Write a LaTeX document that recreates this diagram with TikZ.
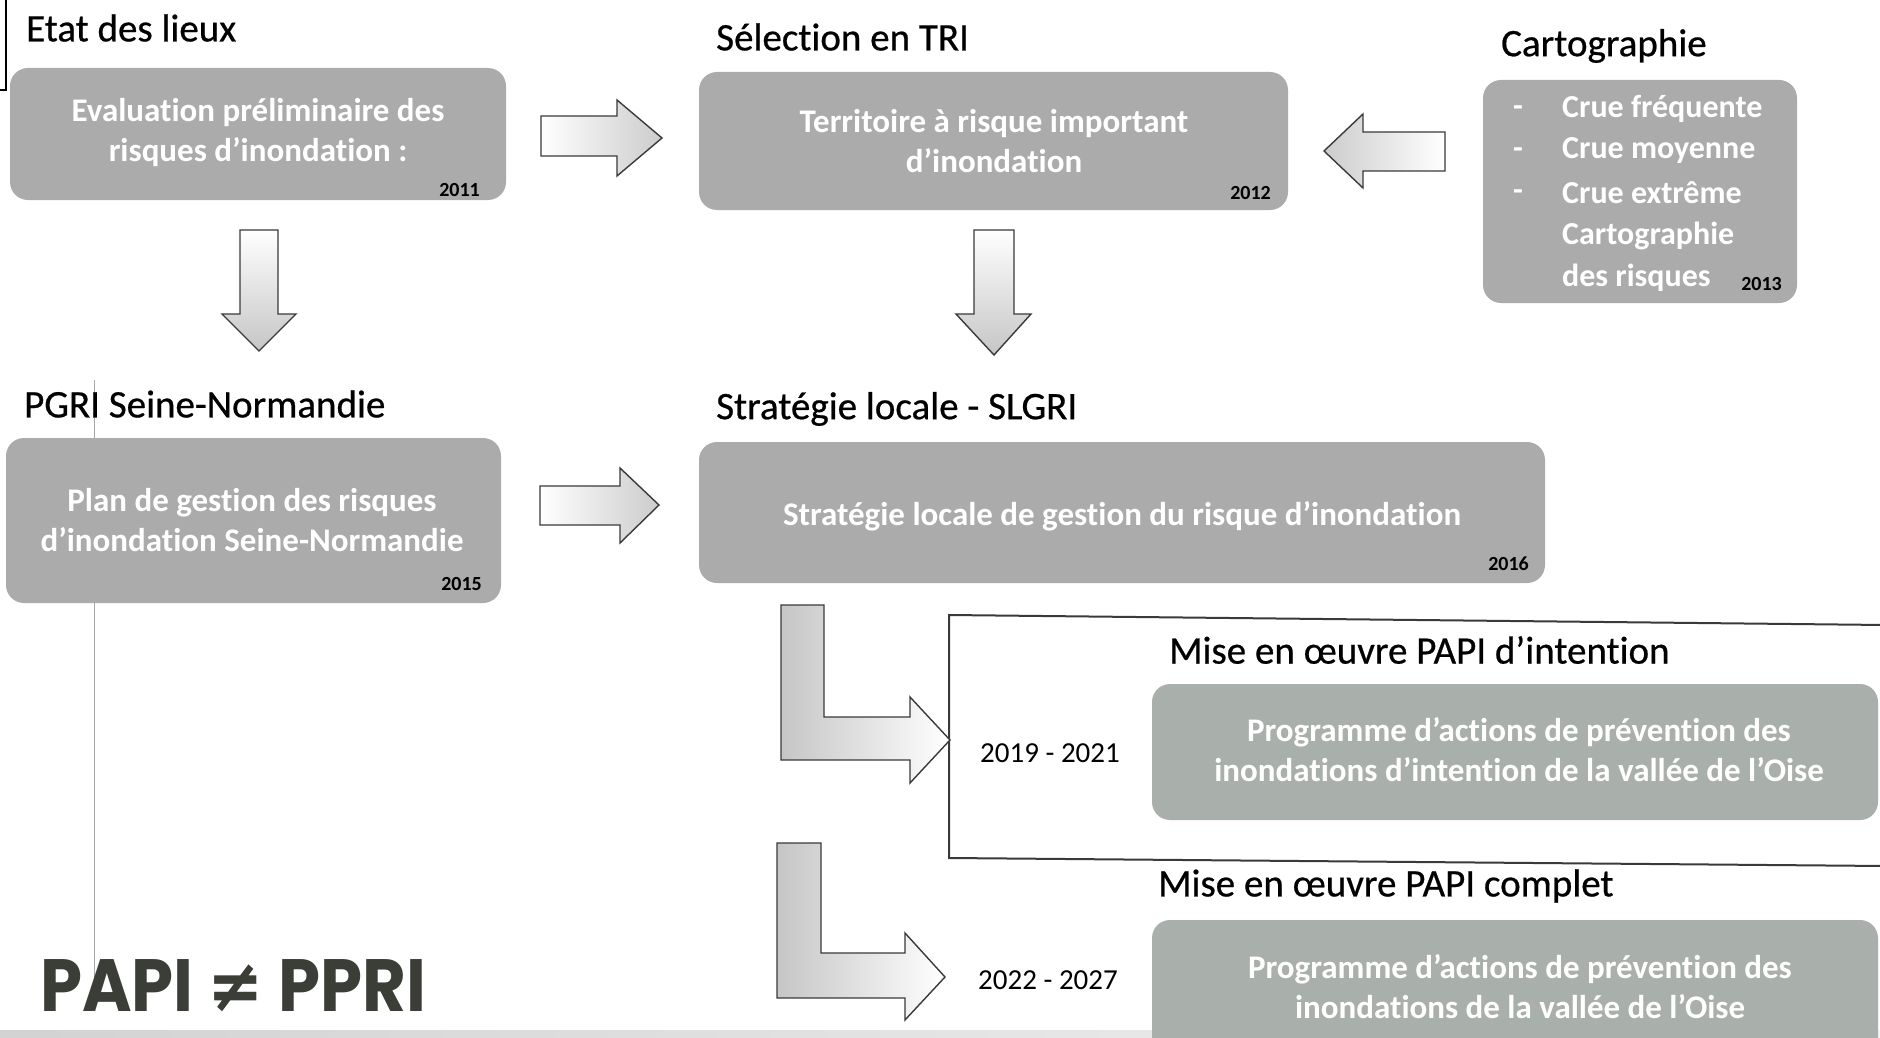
\documentclass[tikz,border=0pt]{standalone}
\usepackage{fontspec}
\setmainfont{Carlito}[Ligatures=NoCommon]
\newfontfamily\titlefont{Carlito}[Ligatures=NoCommon,FakeBold=0.6]
\newfontfamily\papifont{Poppins}
\newfontfamily\symfont{DejaVu Sans}
\definecolor{boxgray}{HTML}{ABABAB}
\definecolor{boxgreen}{HTML}{A9B0AB}
\definecolor{papicol}{HTML}{3B3E36}
\definecolor{arrline}{HTML}{3A3A3A}
\begin{document}
\begin{tikzpicture}[x=1pt,y=-1pt,
  graybox/.style={fill=boxgray, rounded corners=18pt},
  greenbox/.style={fill=boxgreen, rounded corners=18pt},
  boxtxt/.style={inner sep=0pt, text=white, align=center, font=\fontsize{33}{40}\selectfont\bfseries},
  listtxt/.style={inner sep=0pt, text=white, anchor=west, font=\fontsize{32}{40}\selectfont\bfseries},
  yeartxt/.style={inner sep=0pt, anchor=east, font=\fontsize{20}{24}\selectfont\bfseries},
  titletxt/.style={inner sep=0pt, anchor=west, font=\fontsize{39}{46}\selectfont\titlefont},
  datetxt/.style={inner sep=0pt, font=\fontsize{29}{34}\selectfont},
  blockarrow/.style={draw=arrline, line width=1.4pt, line join=miter},
]
\useasboundingbox (0,0) rectangle (1880,1038);
\clip (0,0) rectangle (1880,1038);
\fill[white] (0,0) rectangle (1880,1038);

% artefacts
\draw[line width=1.2pt] (6,0) -- (6,90) -- (0,90);
\draw[gray!70, line width=0.8pt] (94,380) -- (94,990);
\shade[left color=gray!35, right color=gray!8] (0,1030) rectangle (1880,1038);

% titles
\node[titletxt] (tEtat) at (26,28) {Etat des lieux};
\node[titletxt] (tSel) at (716,37) {Sélection en TRI};
\node[titletxt] (tCarto) at (1501,46) {Cartographie};
\node[titletxt] (tPGRI) at (24,404) {PGRI Seine-Normandie};
\node[titletxt] (tSLGRI) at (716,409) {Stratégie locale - SLGRI};
\node[titletxt] (tInt) at (1169,650) {Mise en œuvre PAPI d’intention};
\node[titletxt] (tComp) at (1158,886) {Mise en œuvre PAPI complet};

% boxes
\path[graybox] (10,68) rectangle (506,200);
\node[boxtxt] (b1) at (258,133) {Evaluation préliminaire des\\risques d’inondation :};
\node[yeartxt] (y1) at (480,190) {2011};

\path[graybox] (699,72) rectangle (1288,210);
\node[boxtxt] (b2) at (994,141.5) {Territoire à risque important\\d’inondation};
\node[yeartxt] (y2) at (1271,193) {2012};

\path[graybox] (1483,80) rectangle (1797,303);
\node[listtxt] (d1) at (1513,111) {-};
\node[listtxt] (d2) at (1513,153) {-};
\node[listtxt] (d3) at (1513,195) {-};
\node[listtxt] (c1) at (1562,109) {Crue fréquente};
\node[listtxt] (c2) at (1562,151) {Crue moyenne};
\node[listtxt] (c3) at (1562,193) {Crue extrême};
\node[listtxt] (c4) at (1562,236) {Cartographie};
\node[listtxt] (c5) at (1562,278) {des risques};
\node[yeartxt] (y3) at (1782,284) {2013};

\path[graybox] (6,438) rectangle (501,603);
\node[boxtxt] (b4) at (252,520) {Plan de gestion des risques\\d’inondation Seine-Normandie};
\node[yeartxt] (y4) at (482,584) {2015};

\path[graybox] (699,442) rectangle (1545,583);
\node[boxtxt] (b5) at (1122,516) {Stratégie locale de gestion du risque d’inondation};
\node[yeartxt] (y5) at (1529,564) {2016};

% frame
\draw[arrline, line width=2pt] (1885,625) -- (949,615) -- (949,858) -- (1885,866);

\path[greenbox] (1152,684) rectangle (1878,820);
\node[boxtxt] (b6) at (1519,749.5) {Programme d’actions de prévention des\\inondations d’intention de la vallée de l’Oise};

\path[greenbox] (1152,920) rectangle (1878,1080);
\node[boxtxt] (b7) at (1520,986.5) {Programme d’actions de prévention des\\inondations de la vallée de l’Oise};

\node[datetxt] (dt1) at (1050,753) {2019 - 2021};
\node[datetxt] (dt2) at (1048,980) {2022 - 2027};

% block arrows
\shade[blockarrow, left color=white, right color=gray!40]
  (541,116) -- (617,116) -- (617,100) -- (662,138) -- (617,176) -- (617,156) -- (541,156) -- cycle;
\shade[blockarrow, left color=gray!40, right color=white]
  (1445,132) -- (1363,132) -- (1363,114) -- (1324,151) -- (1363,188) -- (1363,171) -- (1445,171) -- cycle;
\shade[blockarrow, top color=white, bottom color=gray!45]
  (240,230) -- (278,230) -- (278,314) -- (296,314) -- (259,351) -- (222,314) -- (240,314) -- cycle;
\shade[blockarrow, top color=white, bottom color=gray!45]
  (974,230) -- (1014,230) -- (1014,314) -- (1031,314) -- (994,355) -- (956,314) -- (974,314) -- cycle;
\shade[blockarrow, left color=white, right color=gray!40]
  (540,486) -- (620,486) -- (620,468) -- (659,505) -- (620,543) -- (620,525) -- (540,525) -- cycle;
\shade[blockarrow, left color=gray!45, right color=white]
  (781,605) -- (824,605) -- (824,717) -- (910,717) -- (910,697) -- (950,740) -- (910,783) -- (910,760) -- (781,760) -- cycle;
\shade[blockarrow, left color=gray!45, right color=white]
  (777,843) -- (821,843) -- (821,953) -- (905,953) -- (905,933) -- (945,977) -- (905,1020) -- (905,998) -- (777,998) -- cycle;

% PAPI
\node[inner sep=0pt, anchor=west, xscale=0.91, text=papicol, font=\fontsize{74}{80}\selectfont\papifont\bfseries] (papi) at (40,986) {PAPI {\symfont ≠} PPRI};
\end{tikzpicture}
\end{document}
